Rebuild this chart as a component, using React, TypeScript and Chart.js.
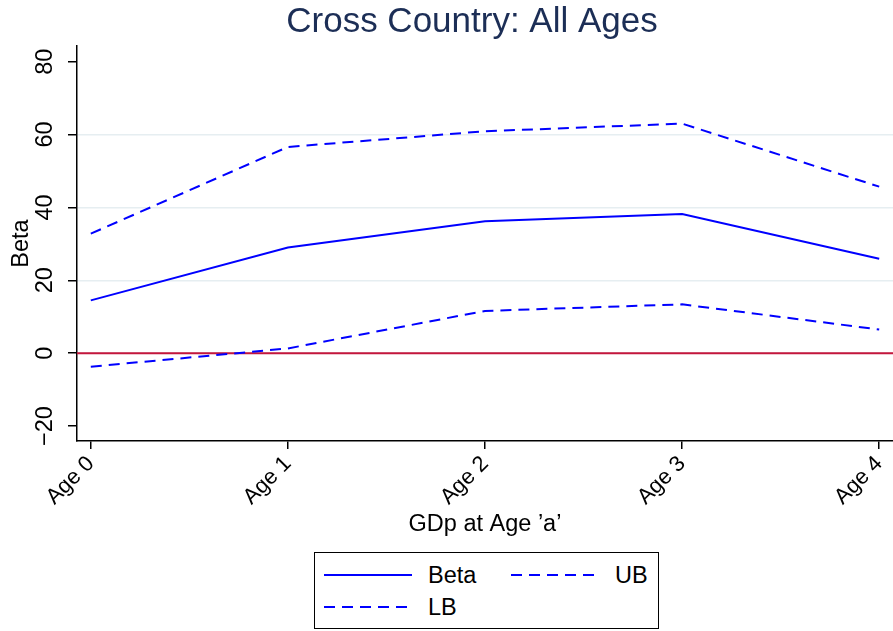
import React, { useEffect, useRef } from "react";
import { Chart, registerables } from "chart.js";

Chart.register(...registerables);

// ---- data ----
const categories = ["Age 0", "Age 1", "Age 2", "Age 3", "Age 4"];
const betaValues = [14.5, 29.0, 36.2, 38.2, 25.9];
const ubValues = [32.8, 56.6, 60.9, 63.0, 45.7];
const lbValues = [-3.7, 1.3, 11.6, 13.4, 6.5];
const yTickValues = [-20, 0, 20, 40, 60, 80];
const gridValues = [0, 20, 40, 60];
const referenceLineValue = 0;
const xRange = [-0.07, 4.07];
const yRange = [-24.1, 84.3];
const seriesLabels = ["Beta", "UB", "LB"];

const chartTitle = "Cross Country: All Ages";
const xAxisTitle = "GDp at Age \u2019a\u2019";
const yAxisTitle = "Beta";

const FONT = "'Liberation Sans', Arial, Helvetica, sans-serif";
const BLUE = "#0000ff";
const RED = "#c4163c";
const GRID = "#e6eef1";
const DASH = [11, 7];
const AXIS_FONT = 23.5;
const XTICK_FONT = 22;

const toPoints = (vals: number[]) => vals.map((v, i) => ({ x: i, y: v }));

const titlePlugin = {
  id: "stataTitle",
  afterDraw(chart: any) {
    const { ctx, chartArea } = chart;
    ctx.save();
    ctx.fillStyle = "#1c2e56";
    ctx.font = `35px ${FONT}`;
    ctx.textAlign = "center";
    ctx.textBaseline = "middle";
    ctx.fillText(chartTitle, (chartArea.left + chartArea.right) / 2 - 13, 22);
    ctx.restore();
  },
};

export default function App() {
  const ref = useRef<HTMLCanvasElement>(null);

  useEffect(() => {
    const canvas = ref.current!;
    const chart = new Chart(canvas, {
      type: "line",
      data: {
        datasets: [
          {
            label: seriesLabels[0],
            data: toPoints(betaValues),
            borderColor: BLUE,
            borderWidth: 2,
            pointRadius: 0,
            tension: 0,
            order: 1,
          },
          {
            label: seriesLabels[1],
            data: toPoints(ubValues),
            borderColor: BLUE,
            borderWidth: 2,
            borderDash: DASH,
            pointRadius: 0,
            tension: 0,
            order: 2,
          },
          {
            label: seriesLabels[2],
            data: toPoints(lbValues),
            borderColor: BLUE,
            borderWidth: 2,
            borderDash: DASH,
            pointRadius: 0,
            tension: 0,
            order: 3,
          },
          {
            label: "zero",
            data: [
              { x: xRange[0], y: referenceLineValue },
              { x: xRange[1], y: referenceLineValue },
            ],
            borderColor: RED,
            borderWidth: 2,
            pointRadius: 0,
            tension: 0,
            order: 10,
          },
        ],
      },
      options: {
        responsive: false,
        animation: false,
        devicePixelRatio: 1,
        layout: { padding: { top: 46, left: 0, right: 0, bottom: 0 } },
        plugins: {
          legend: { display: false },
          tooltip: { enabled: false },
          title: { display: false },
        },
        scales: {
          x: {
            type: "linear",
            min: xRange[0],
            max: xRange[1],
            afterBuildTicks: (scale: any) => {
              scale.ticks = categories.map((_, i) => ({ value: i }));
            },
            afterFit: (scale: any) => {
              scale.height = 190;
              scale.paddingLeft = 0;
              scale.paddingRight = 0;
            },
            border: { display: true, color: "#000", width: 1.5 },
            grid: {
              drawOnChartArea: false,
              color: "#000",
              tickColor: "#000",
              tickLength: 8,
              lineWidth: 1.5,
            },
            ticks: {
              autoSkip: false,
              minRotation: 45,
              maxRotation: 45,
              padding: 2,
              color: "#000",
              font: { family: FONT, size: XTICK_FONT },
              callback: (v: any) => categories[Math.round(Number(v))] ?? "",
            },
            title: {
              display: true,
              text: xAxisTitle,
              color: "#000",
              font: { family: FONT, size: AXIS_FONT },
              padding: { top: 0, bottom: 92 },
            },
          },
          y: {
            type: "linear",
            min: yRange[0],
            max: yRange[1],
            afterBuildTicks: (scale: any) => {
              scale.ticks = yTickValues.map((v) => ({ value: v }));
            },
            afterFit: (scale: any) => {
              scale.width = 77;
              scale.paddingTop = 0;
              scale.paddingBottom = 0;
            },
            border: { display: true, color: "#000", width: 1.5 },
            grid: {
              color: (c: any) =>
                c.tick && gridValues.includes(c.tick.value) ? GRID : "rgba(0,0,0,0)",
              lineWidth: 1.5,
              tickColor: "#000",
              tickLength: 9,
            },
            ticks: {
              autoSkip: false,
              minRotation: 90,
              maxRotation: 90,
              crossAlign: "center",
              padding: 3,
              color: "#000",
              font: { family: FONT, size: AXIS_FONT },
              callback: (v: any) => {
                const n = Number(v);
                return n < 0 ? "\u2212" + Math.abs(n) : String(n);
              },
            },
            title: {
              display: true,
              text: yAxisTitle,
              color: "#000",
              font: { family: FONT, size: AXIS_FONT },
              padding: { top: 7, bottom: 0 },
            },
          },
        },
      } as any,
      plugins: [titlePlugin],
    });
    return () => chart.destroy();
  }, []);

  const legendItems = [
    { label: seriesLabels[0], dash: undefined as number[] | undefined },
    { label: seriesLabels[1], dash: DASH },
    { label: seriesLabels[2], dash: DASH },
  ];

  const renderItem = (item: { label: string; dash?: number[] }, left: number, top: number) => (
    <div
      key={item.label}
      style={{ position: "absolute", left, top, height: 30, display: "flex", alignItems: "center" }}
    >
      <svg width={88} height={6} style={{ display: "block" }}>
        <line
          x1={0}
          y1={3}
          x2={88}
          y2={3}
          stroke={BLUE}
          strokeWidth={2}
          strokeDasharray={item.dash ? item.dash.join(" ") : undefined}
        />
      </svg>
      <span style={{ marginLeft: 16, fontFamily: FONT, fontSize: AXIS_FONT, color: "#000", lineHeight: "30px" }}>
        {item.label}
      </span>
    </div>
  );

  return (
    <div style={{ position: "fixed", left: 0, top: 0, width: 893, height: 631, background: "#fff" }}>
      <canvas ref={ref} width={893} height={631} style={{ display: "block", width: 893, height: 631 }} />
      <div
        style={{
          position: "absolute",
          left: 314,
          top: 552,
          width: 345,
          height: 77,
          border: "1px solid #000",
          boxSizing: "border-box",
          background: "#fff",
        }}
      >
        {renderItem(legendItems[0], 9, 7)}
        {renderItem(legendItems[1], 196, 7)}
        {renderItem(legendItems[2], 9, 39)}
      </div>
    </div>
  );
}
